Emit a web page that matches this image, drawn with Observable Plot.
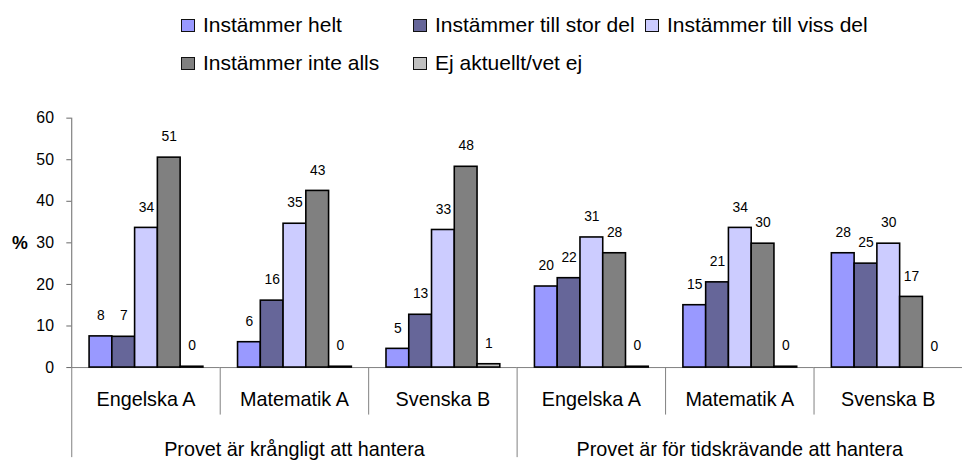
<!DOCTYPE html>
<html>
<head>
<meta charset="utf-8">
<script src="https://cdn.jsdelivr.net/npm/d3@7"></script>
<script src="https://cdn.jsdelivr.net/npm/@observablehq/plot@0.6"></script>
<style>
  html, body { margin: 0; padding: 0; background: #fff; overflow: hidden; }
  body { font-family: "Liberation Sans", Arial, sans-serif; color: #000; width: 962px; height: 461px; }
  #legend { position: relative; height: 85px; }
  .item { position: absolute; height: 21px; }
  .sw { position: absolute; left: 0; top: 5px; width: 14px; height: 13px; box-sizing: border-box; border: 1.5px solid #111; }
  .lab { position: absolute; left: 22px; top: 0; font-size: 21px; line-height: 21px; white-space: nowrap; }
  #chart svg { display: block; overflow: visible; }
</style>
</head>
<body>
<div id="legend"></div>
<div id="chart"></div>
<script>
// ---- data ----
const groups = ["Provet är krångligt att hantera", "Provet är för tidskrävande att hantera"];
const subjects = ["Engelska A", "Matematik A", "Svenska B"];
const series = ["Instämmer helt", "Instämmer till stor del", "Instämmer till viss del", "Instämmer inte alls", "Ej aktuellt/vet ej"];
const colors = ["#9999FF", "#666699", "#CCCCFF", "#808080", "#C0C0C0"];
const yTicks = [0, 10, 20, 30, 40, 50, 60];

const krangligtEngelska  = [7.5, 7.4, 33.6, 50.5, 0.2];
const krangligtMatematik = [6.1, 16.1, 34.6, 42.5, 0.2];
const krangligtSvenska   = [4.5, 12.7, 33.1, 48.3, 0.8];
const tidEngelska        = [19.5, 21.5, 31.3, 27.5, 0.2];
const tidMatematik       = [15.0, 20.5, 33.6, 29.8, 0.2];
const tidSvenska         = [27.5, 25.0, 29.8, 17.0, 0];

const values = [
  [krangligtEngelska, krangligtMatematik, krangligtSvenska],
  [tidEngelska, tidMatematik, tidSvenska]
];

const keys = [];
const data = [];
groups.forEach((g, gi) => subjects.forEach((s, si) => {
  const key = g + "|" + s;
  keys.push(key);
  series.forEach((ser, k) => data.push({key, group: g, subject: s, series: ser, value: values[gi][si][k]}));
}));
const groupLabels = groups.map(g => ({key: g + "|" + subjects[1], label: g}));

// ---- legend ----
const legend = d3.select("#legend");
series.forEach((s, i) => {
  const item = legend.append("div").attr("class", "item")
    .style("left", (181 + (i % 3) * 232) + "px")
    .style("top", (14 + Math.floor(i / 3) * 37.5) + "px");
  item.append("div").attr("class", "sw").style("background", colors[i]);
  item.append("div").attr("class", "lab").text(s);
});

// ---- chart ----
const W = 972, H = 376;
const plot = Plot.plot({
  width: W,
  height: H,
  marginLeft: 72,
  marginRight: 0,
  marginTop: 33,
  marginBottom: 91,
  style: {fontFamily: "'Liberation Sans', Arial, sans-serif", color: "#000", background: "transparent", overflow: "visible"},
  fx: {domain: keys, padding: 0, label: null},
  x: {domain: series, paddingInner: 0, paddingOuter: 0.7, axis: null},
  y: {domain: [0, 60], label: null},
  color: {domain: series, range: colors},
  marks: [
    Plot.ruleY([0], {stroke: "#808080", strokeWidth: 1}),
    Plot.axisY({ticks: yTicks, tickSize: 5, tickPadding: 13, fontSize: 16, label: null, stroke: "#666"}),
    Plot.axisFx({anchor: "bottom", tickSize: 0, tickPadding: 25, fontSize: 20, label: null, tickFormat: k => k.split("|")[1]}),
    Plot.barY(data, {fx: "key", x: "series", y: "value", fill: "series", stroke: "#000", strokeWidth: 1.6}),
    Plot.text(data, {fx: "key", x: "series", y: "value", text: d => String(Math.round(d.value)), dy: -21, fontSize: 14, fill: "#000"}),
    Plot.text(groupLabels, {fx: "key", text: "label", frameAnchor: "bottom", lineAnchor: "top", dy: 75, fontSize: 20, fill: "#000"})
  ]
});
document.getElementById("chart").appendChild(plot);

// y-axis line, separators and % label, placed via Plot's own scales
const fxs = plot.scale("fx");
const ys = plot.scale("y");
const base = ys.apply(0);
const svg = d3.select(plot);
svg.append("line")
  .attr("x1", fxs.apply(keys[0]) + 0.5).attr("x2", fxs.apply(keys[0]) + 0.5)
  .attr("y1", ys.apply(60)).attr("y2", base)
  .attr("stroke", "#666");
const sep = svg.append("g").attr("stroke", "#808080").attr("stroke-width", 1);
keys.forEach((k, i) => {
  const x0 = Math.round(fxs.apply(k)) + 0.5;
  const edge = i % subjects.length === 0;
  sep.append("line").attr("x1", x0).attr("x2", x0)
    .attr("y1", base).attr("y2", edge ? H : base + 48);
});
svg.append("text")
  .attr("x", 20).attr("y", ys.apply(30))
  .attr("dy", "0.35em")
  .attr("text-anchor", "middle")
  .attr("font-size", 18).attr("font-weight", "bold")
  .text("%");
</script>
</body>
</html>
